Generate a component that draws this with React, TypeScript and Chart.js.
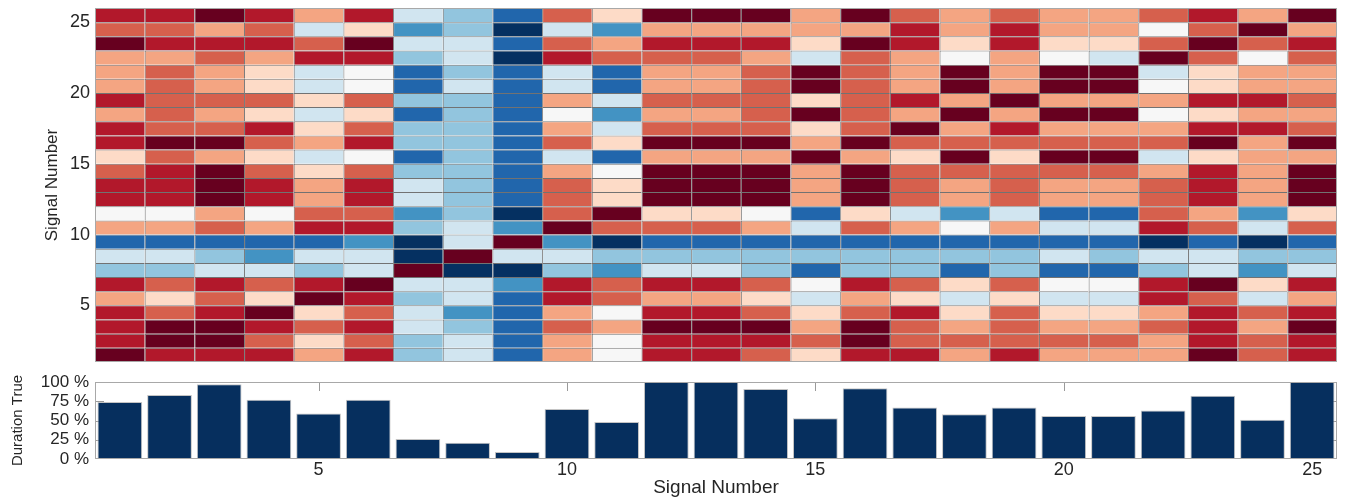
import React, { useEffect, useRef } from "react";
import { Chart, registerables } from "chart.js";

Chart.register(...registerables);

const FONT = "'Liberation Sans', Arial, Helvetica, sans-serif";
const TEXT = "#262626";

// Signal numbers (columns of the heat map, bars of the lower chart)
const signals = [1, 2, 3, 4, 5, 6, 7, 8, 9, 10, 11, 12, 13, 14, 15, 16, 17, 18, 19, 20, 21, 22, 23, 24, 25];
const axisTicks = [5, 10, 15, 20, 25];
const durationTicks = [0, 25, 50, 75, 100];

// Duration true (%) per signal
const durationTrue = [74, 83, 97, 77, 59, 77, 26, 21, 9, 65, 48, 100, 100, 91, 53, 92, 67, 58, 67, 56, 56, 63, 82, 51, 100];

// Heat map levels (-5 = dark blue ... 5 = dark red), rows listed from signal 25 (top) down to signal 1
const heatRows: number[][] = [
  [4, 4, 5, 4, 2, 4, -1, -2, -4, 3, 1, 5, 5, 5, 2, 5, 3, 2, 3, 2, 2, 3, 4, 2, 5],
  [3, 3, 2, 3, -1, 1, -3, -2, -5, -1, -3, 2, 2, 2, 2, 2, 4, 2, 4, 2, 2, 0, 3, 5, 2],
  [5, 4, 4, 4, 3, 5, -1, -1, -4, 3, 2, 4, 4, 4, 1, 5, 4, 1, 4, 1, 1, 3, 5, 3, 4],
  [2, 2, 3, 2, 4, 4, -2, -1, -5, 4, 3, 3, 3, 2, -1, 3, 2, 0, 2, 0, -1, 5, 3, 0, 3],
  [2, 3, 2, 1, -1, 0, -4, -2, -4, -1, -4, 2, 2, 3, 5, 3, 2, 5, 2, 5, 5, -1, 1, 2, 2],
  [2, 3, 2, 1, -1, 0, -4, -1, -4, -1, -4, 2, 2, 3, 5, 3, 2, 5, 2, 5, 5, 0, 1, 2, 2],
  [4, 3, 3, 3, 1, 3, -2, -2, -4, 2, -1, 3, 3, 3, 1, 3, 4, 2, 5, 2, 2, 2, 4, 4, 3],
  [2, 3, 2, 1, -1, 1, -4, -2, -4, 0, -3, 2, 2, 3, 5, 3, 2, 5, 2, 5, 5, 0, 1, 2, 2],
  [4, 3, 3, 4, 1, 3, -2, -2, -4, 2, -1, 3, 3, 3, 1, 3, 5, 2, 4, 2, 2, 2, 4, 4, 3],
  [4, 5, 5, 3, 2, 4, -2, -2, -4, 3, 1, 5, 5, 5, 2, 5, 3, 3, 3, 3, 3, 3, 5, 2, 5],
  [1, 3, 2, 1, -1, 0, -4, -2, -4, -1, -4, 2, 2, 2, 5, 2, 1, 5, 1, 5, 5, -1, 1, 2, 2],
  [3, 4, 5, 3, 1, 3, -2, -2, -4, 2, 0, 5, 5, 5, 2, 5, 3, 3, 3, 3, 3, 2, 4, 2, 5],
  [4, 4, 5, 4, 2, 4, -1, -2, -4, 3, 1, 5, 5, 5, 2, 5, 3, 2, 3, 2, 2, 3, 4, 2, 5],
  [4, 4, 5, 4, 2, 4, -1, -2, -4, 3, 1, 5, 5, 5, 2, 5, 3, 2, 3, 2, 2, 3, 4, 2, 5],
  [0, 0, 2, 0, 3, 3, -3, -2, -5, 3, 5, 1, 1, 0, -4, 1, -1, -3, -1, -4, -4, 3, 2, -3, 1],
  [2, 2, 3, 2, 4, 4, -2, -1, -3, 5, 3, 3, 3, 2, -1, 3, 2, 0, 2, -1, -1, 4, 3, -1, 3],
  [-4, -4, -4, -4, -4, -3, -5, -1, 5, -3, -5, -4, -4, -4, -4, -4, -4, -4, -4, -4, -4, -5, -4, -5, -4],
  [-1, -1, -2, -3, -1, -1, -5, 5, -1, -1, -2, -2, -2, -2, -2, -2, -2, -2, -2, -1, -2, -1, -1, -2, -2],
  [-2, -2, -1, -1, -2, -1, 5, -5, -5, -2, -3, -1, -1, -2, -4, -2, -2, -4, -2, -4, -4, -2, -1, -3, -1],
  [4, 3, 4, 3, 4, 5, -1, -1, -3, 4, 3, 4, 4, 3, 0, 4, 3, 1, 3, 0, 0, 4, 5, 1, 4],
  [2, 1, 3, 1, 5, 4, -2, -1, -4, 4, 3, 2, 2, 1, -1, 2, 1, -1, 1, -1, -1, 4, 3, -1, 2],
  [4, 3, 4, 5, 1, 3, -1, -3, -4, 2, 0, 4, 4, 3, 1, 3, 4, 1, 3, 1, 1, 2, 4, 3, 4],
  [4, 5, 5, 4, 3, 4, -1, -2, -4, 3, 2, 5, 5, 5, 2, 5, 3, 2, 3, 2, 2, 3, 4, 2, 5],
  [4, 5, 5, 3, 1, 3, -2, -1, -4, 2, 0, 4, 4, 4, 3, 5, 3, 3, 3, 3, 3, 2, 4, 3, 4],
  [5, 4, 4, 4, 2, 4, -2, -1, -4, 2, 0, 4, 4, 3, 1, 4, 4, 2, 4, 2, 2, 2, 5, 3, 4],
];

// RdBu 11-class colours for levels -5..5
const levelColors = [
  "#053061", "#2166ac", "#4393c3", "#92c5de", "#d1e5f0", "#f7f7f7",
  "#fddbc7", "#f4a582", "#d6604d", "#b2182b", "#67001f",
];

const framePlugin = {
  id: "frame",
  afterDatasetsDraw(chart: any) {
    const { ctx, chartArea: a } = chart;
    ctx.save();
    ctx.strokeStyle = "#a8a8a8";
    ctx.lineWidth = 1;
    ctx.strokeRect(Math.round(a.left) + 0.5, Math.round(a.top) + 0.5, Math.round(a.right - a.left) - 1, Math.round(a.bottom - a.top) - 1);
    ctx.restore();
  },
};

const inwardTicksPlugin = {
  id: "inwardTicks",
  beforeDatasetsDraw(chart: any) {
    const { ctx, chartArea: a, scales } = chart;
    ctx.save();
    ctx.strokeStyle = "#9a9a9a";
    ctx.lineWidth = 1;
    ctx.beginPath();
    axisTicks.forEach((v) => {
      const x = Math.round(scales.x.getPixelForValue(v)) + 0.5;
      ctx.moveTo(x, a.top);
      ctx.lineTo(x, a.top + 9);
      ctx.moveTo(x, a.bottom);
      ctx.lineTo(x, a.bottom - 9);
    });
    durationTicks.slice(1, -1).forEach((v) => {
      const y = Math.round(scales.y.getPixelForValue(v)) + 0.5;
      ctx.moveTo(a.left, y);
      ctx.lineTo(a.left + 9, y);
      ctx.moveTo(a.right, y);
      ctx.lineTo(a.right - 9, y);
    });
    ctx.stroke();
    ctx.restore();
  },
};

const setTicks = (values: number[]) => (s: any) => {
  s.ticks = values.map((v) => ({ value: v }));
};

const fitTo = (dim: "width" | "height", size: number) => (s: any) => {
  s[dim] = size;
  s.paddingTop = 0;
  s.paddingBottom = 0;
  s.paddingLeft = 0;
  s.paddingRight = 0;
};

export default function App() {
  const heatRef = useRef<HTMLCanvasElement | null>(null);
  const barRef = useRef<HTMLCanvasElement | null>(null);

  useEffect(() => {
    if (!heatRef.current || !barRef.current) return;

    const heat = new Chart(heatRef.current, {
      type: "bar",
      data: {
        datasets: heatRows.map((vals, i) => {
          const row = heatRows.length - i;
          return {
            data: vals.map((v, j) => ({ x: signals[j], y: [row, row + 1] })),
            backgroundColor: vals.map((v) => levelColors[v + 5]),
            borderColor: "rgba(20,20,20,0.6)",
            borderWidth: { top: 1, left: 1, right: 0, bottom: 0 },
            borderSkipped: false,
            inflateAmount: 0,
            grouped: false,
            barPercentage: 1,
            categoryPercentage: 1,
          } as any;
        }),
      },
      options: {
        animation: false,
        responsive: false,
        maintainAspectRatio: false,
        layout: { padding: { left: 42, right: 8, top: 8, bottom: 10 } },
        plugins: { legend: { display: false }, tooltip: { enabled: false } },
        scales: {
          x: {
            type: "linear",
            offset: false,
            min: 0.5,
            max: 25.5,
            afterBuildTicks: setTicks(axisTicks),
            ticks: { display: false },
            grid: { display: false, drawTicks: false },
            border: { display: false },
            afterFit: fitTo("height", 0),
          },
          y: {
            type: "linear",
            offset: false,
            min: 1,
            max: 26,
            afterBuildTicks: setTicks(axisTicks),
            ticks: { color: TEXT, font: { family: FONT, size: 18 }, padding: 5, autoSkip: false },
            grid: { display: false, drawTicks: false },
            border: { display: false },
            title: { display: true, text: "Signal Number", color: TEXT, font: { family: FONT, size: 17 }, padding: 0 },
            afterFit: fitTo("width", 53),
          },
        },
      } as any,
      plugins: [framePlugin],
    });

    const bars = new Chart(barRef.current, {
      type: "bar",
      data: {
        datasets: [
          {
            data: signals.map((s, i) => ({ x: s, y: durationTrue[i] })),
            backgroundColor: "#062f5e",
            borderColor: "#c4c4c4",
            borderWidth: 1,
            inflateAmount: 0,
            barPercentage: 0.9,
            categoryPercentage: 1,
          } as any,
        ],
      },
      options: {
        animation: false,
        responsive: false,
        maintainAspectRatio: false,
        layout: { padding: { left: 9, right: 8, top: 10, bottom: 0 } },
        plugins: { legend: { display: false }, tooltip: { enabled: false } },
        scales: {
          x: {
            type: "linear",
            offset: false,
            min: 0.5,
            max: 25.5,
            afterBuildTicks: setTicks(axisTicks),
            ticks: { color: TEXT, font: { family: FONT, size: 18 }, padding: 0, maxRotation: 0, autoSkip: false },
            grid: { display: false, drawTicks: false },
            border: { display: false },
            title: { display: true, text: "Signal Number", color: TEXT, font: { family: FONT, size: 19 }, padding: 0 },
            afterFit: fitTo("height", 40),
          },
          y: {
            type: "linear",
            offset: false,
            min: 0,
            max: 100,
            afterBuildTicks: setTicks(durationTicks),
            ticks: { color: TEXT, font: { family: FONT, size: 17 }, padding: 6, autoSkip: false, callback: (v: any) => `${v} %` },
            grid: { display: false, drawTicks: false },
            border: { display: false },
            title: { display: true, text: "Duration True", color: TEXT, font: { family: FONT, size: 15 }, padding: 0 },
            afterFit: fitTo("width", 86),
          },
        },
      } as any,
      plugins: [inwardTicksPlugin, framePlugin],
    });

    return () => {
      heat.destroy();
      bars.destroy();
    };
  }, []);

  return (
    <div style={{ position: "fixed", left: 0, top: 0, width: 1345, height: 499, background: "#fff" }}>
      <canvas ref={heatRef} width={1345} height={372} style={{ position: "absolute", left: 0, top: 0, display: "block" }} />
      <canvas ref={barRef} width={1345} height={127} style={{ position: "absolute", left: 0, top: 372, display: "block" }} />
    </div>
  );
}
